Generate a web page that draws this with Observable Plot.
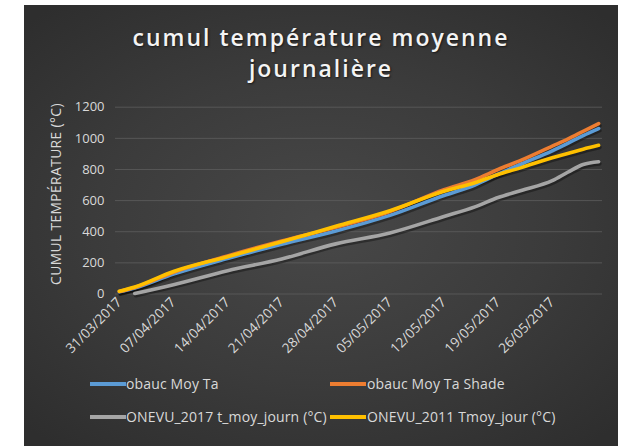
<!DOCTYPE html>
<html>
<head>
<meta charset="utf-8">
<script src="https://cdn.jsdelivr.net/npm/d3@7"></script>
<script src="https://cdn.jsdelivr.net/npm/@observablehq/plot@0.6"></script>
<style>
  html, body { margin: 0; padding: 0; background: #ffffff; }
  body { width: 618px; height: 446px; position: relative; overflow: hidden; font-family: "Open Sans", sans-serif; }
  #bg { position: absolute; left: 24px; top: 5px; width: 594px; height: 441px;
        background: radial-gradient(ellipse 70% 65% at 50% 50%, #484848 0%, #3b3b3b 55%, #2e2e2e 100%); }
  #title { position: absolute; left: 24px; width: 594px; top: 22px; text-align: center; color: #f4f4f4;
           font-family: "Open Sans", sans-serif; font-weight: 600; font-size: 23px; line-height: 31px;
           letter-spacing: 2px; text-shadow: 1px 1px 2px rgba(0,0,0,0.6); }
  #chart { position: absolute; left: 0; top: 90px; }
  #ylabel { position: absolute; left: 55px; top: 194px; transform: translate(-50%, -50%) rotate(-90deg);
            white-space: nowrap; color: #d9d9d9; font-size: 13.8px; letter-spacing: 0.4px; font-family: "Open Sans", sans-serif; }
  .leg { position: absolute; color: #d9d9d9; font-size: 14px; white-space: nowrap; font-family: "Open Sans", sans-serif; letter-spacing: 0.15px; }
  .sw { position: absolute; width: 36px; height: 3.5px; }
</style>
</head>
<body>
<div id="bg"></div>
<div id="title">cumul température moyenne<br>journalière</div>
<div id="ylabel">CUMUL TEMPÉRATURE (°C)</div>
<div id="chart"></div>
<div id="legend"></div>
<script>
// ---- data ----
const dates = ["31/03/2017","02/04/2017","07/04/2017","14/04/2017","21/04/2017","28/04/2017","05/05/2017",
               "12/05/2017","16/05/2017","19/05/2017","22/05/2017","26/05/2017","28/05/2017","30/05/2017","01/06/2017"];
const obaucMoyTa      = [14, 38, 128, 228, 320, 405, 505, 633, 700, 770, 835, 920, 968, 1018, 1063];
const obaucMoyTaShade = [16, 42, 140, 245, 340, 428, 530, 670, 735, 800, 860, 950, 995, 1045, 1095];
const onevu2017       = [null, 3, 60, 150, 225, 322, 392, 498, 560, 620, 665, 728, 782, 832, 850];
const onevu2011       = [18, 45, 145, 240, 335, 435, 535, 660, 715, 768, 812, 875, 902, 930, 955];
const seriesNames = ["obauc Moy Ta", "obauc Moy Ta Shade", "ONEVU_2017 t_moy_journ (°C)", "ONEVU_2011 Tmoy_jour (°C)"];
const seriesColors = ["#5B9BD5", "#ED7D31", "#A5A5A5", "#FFC000"];
const xTickLabels = ["31/03/2017","07/04/2017","14/04/2017","21/04/2017","28/04/2017","05/05/2017","12/05/2017","19/05/2017","26/05/2017"];
const yTicks = [0, 200, 400, 600, 800, 1000, 1200];

const parse = d3.utcParse("%d/%m/%Y");
const fmt = d3.utcFormat("%d/%m/%Y");
const allValues = [obaucMoyTa, obaucMoyTaShade, onevu2017, onevu2011];
const rows = [];
allValues.forEach((vals, si) => {
  vals.forEach((v, i) => { if (v != null) rows.push({date: parse(dates[i]), value: v, series: seriesNames[si]}); });
});

// draw order: gray, blue, orange, yellow (yellow on top like reference)
const order = [2, 0, 1, 3];
const lineMarks = [];
order.forEach(si => {
  const data = rows.filter(r => r.series === seriesNames[si]);
  lineMarks.push(Plot.line(data, {x: "date", y: "value", stroke: "#000", strokeOpacity: 0.35, strokeWidth: 4, dx: 1, dy: 2, curve: "monotone-x"}));
});
order.forEach(si => {
  const data = rows.filter(r => r.series === seriesNames[si]);
  lineMarks.push(Plot.line(data, {x: "date", y: "value", stroke: seriesColors[si], strokeWidth: 3.6, curve: "monotone-x", strokeLinecap: "round"}));
});

const chart = Plot.plot({
  width: 618,
  height: 270,
  marginLeft: 115,
  marginRight: 16,
  marginTop: 16.7,
  marginBottom: 66.5,
  style: {background: "transparent", color: "#d9d9d9", fontFamily: "Open Sans", fontSize: "12px", overflow: "visible"},
  x: {type: "utc", domain: [new Date(Date.UTC(2017, 2, 30, 12)), new Date(Date.UTC(2017, 5, 1, 12))]},
  y: {domain: [0, 1200]},
  marks: [
    Plot.gridY(yTicks, {stroke: "#5e5e5e", strokeOpacity: 1, strokeWidth: 0.8}),
    Plot.axisY(yTicks, {tickSize: 0, tickPadding: 11, tickFormat: d => String(d), label: null, fontSize: 13, fill: "#d9d9d9"}),
    Plot.axisX(xTickLabels.map(parse), {tickSize: 0, tickPadding: 6, tickRotate: -45, tickFormat: fmt, label: null, fontSize: 13.6, fill: "#d9d9d9"}),
    ...lineMarks
  ]
});
document.getElementById("chart").appendChild(chart);

// legend
const legend = document.getElementById("legend");
const legPos = [
  {sx: 90, tx: 126, y: 384},
  {sx: 330, tx: 367, y: 384},
  {sx: 90, tx: 126, y: 417},
  {sx: 330, tx: 367, y: 417}
];
seriesNames.forEach((name, i) => {
  const p = legPos[i];
  const sw = document.createElement("div");
  sw.className = "sw";
  sw.style.left = p.sx + "px"; sw.style.top = (p.y - 1.75) + "px"; sw.style.background = seriesColors[i];
  legend.appendChild(sw);
  const t = document.createElement("div");
  t.className = "leg";
  t.textContent = name;
  t.style.left = p.tx + "px"; t.style.top = (p.y - 10.5) + "px";
  legend.appendChild(t);
});
</script>
</body>
</html>
